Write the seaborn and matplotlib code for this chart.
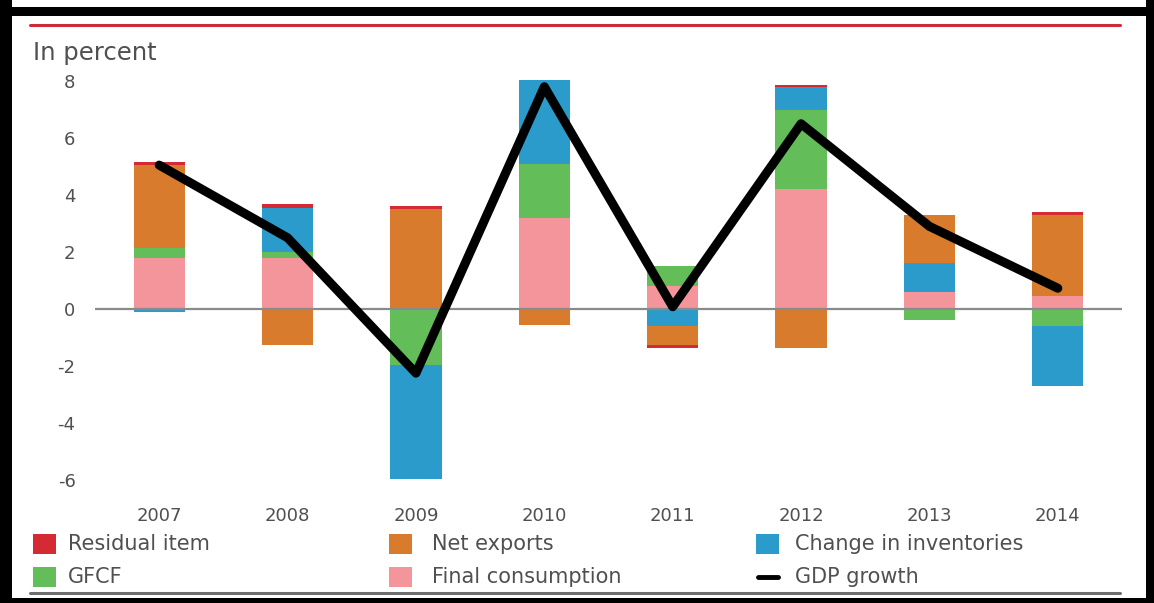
import numpy as np
import pandas as pd
import matplotlib
matplotlib.use("Agg")
import matplotlib.pyplot as plt
from matplotlib.patches import Rectangle
from matplotlib.lines import Line2D
import seaborn as sns

years = ["2007", "2008", "2009", "2010", "2011", "2012", "2013", "2014"]
final_consumption = [1.8, 1.8, 0.0, 3.2, 0.8, 4.2, 0.6, 0.45]
gfcf = [0.35, 0.2, -1.95, 1.9, 0.7, 2.8, -0.4, -0.6]
inventories = [-0.12, 1.55, -4.0, 2.95, -0.6, 0.8, 1.0, -2.1]
net_exports = [2.9, -1.25, 3.5, -0.55, -0.65, -1.38, 1.7, 2.85]
residual = [0.1, 0.15, 0.1, 0.0, -0.12, 0.07, 0.0, 0.1]
gdp_growth = [5.05, 2.5, -2.25, 7.8, 0.08, 6.5, 2.9, 0.73]

RED = "#d42a34"
ORANGE = "#d87b2c"
BLUE = "#2b9bcb"
GREEN = "#63be5a"
PINK = "#f4959c"
TXT = "#505050"

W, H = 1154, 603
fig = plt.figure(figsize=(W / 100, H / 100), dpi=100)
sns.set_style("white")
plt.rcParams["font.family"] = ["DejaVu Sans"]

# axes placed in pixel terms
ax = fig.add_axes([95 / W, 1 - 488.6 / H, (1122 - 95) / W, (488.6 - 75.3) / H])

# stacking: positives and negatives separately, drawn as cumulative overlays
pos_order = [("Final consumption", final_consumption, PINK),
             ("GFCF", gfcf, GREEN),
             ("Change in inventories", inventories, BLUE),
             ("Net exports", net_exports, ORANGE),
             ("Residual item", residual, RED)]
neg_order = [("GFCF", gfcf, GREEN),
             ("Change in inventories", inventories, BLUE),
             ("Net exports", net_exports, ORANGE),
             ("Residual item", residual, RED)]

def cumulative(order, positive):
    out = []
    total = np.zeros(len(years))
    for name, vals, col in order:
        v = np.array(vals)
        v = np.where(v > 0, v, 0) if positive else np.where(v < 0, v, 0)
        total = total + v
        out.append((name, total.copy(), col))
    return out

for stack in (cumulative(pos_order, True), cumulative(neg_order, False)):
    for name, tops, col in reversed(stack):
        df = pd.DataFrame({"year": years, "value": tops})
        sns.barplot(data=df, x="year", y="value", color=col, width=0.4,
                    linewidth=0, saturation=1, ax=ax)

ax.axhline(0, color="#8a8a8a", lw=1.6, zorder=3)

sns.lineplot(x=np.arange(len(years)), y=gdp_growth, color="black", lw=6.5,
             solid_capstyle="round", solid_joinstyle="round", ax=ax, zorder=5)

ax.set_xlim(-0.5, 7.5)
ax.set_ylim(-6.3, 8.2)
ax.set_yticks([-6, -4, -2, 0, 2, 4, 6, 8])
ax.set_yticklabels(["-6", "-4", "-2", "0", "2", "4", "6", "8"])
ax.set_xticks(range(len(years)))
ax.set_xticklabels(years)
ax.tick_params(axis="both", length=0, labelsize=13, colors=TXT)
ax.tick_params(axis="x", pad=13)
ax.tick_params(axis="y", pad=14)
ax.set_xlabel("")
ax.set_ylabel("")
for s in ax.spines.values():
    s.set_visible(False)

fig.text(33 / W, 1 - 53 / H, "In percent", fontsize=17.5, color=TXT, va="center", ha="left")

# top red rule and bottom gray rule
fig.add_artist(Line2D([30 / W, 1120 / W], [1 - 25 / H, 1 - 25 / H], color="#d02a36", lw=2.2))
fig.add_artist(Line2D([30 / W, 1120 / W], [1 - 593 / H, 1 - 593 / H], color="#6e6e6e", lw=2.2))

# legend
entries = [(33, 68, 544, RED, "Residual item"), (33, 68, 577, GREEN, "GFCF"),
           (389, 432, 544, ORANGE, "Net exports"), (389, 432, 577, PINK, "Final consumption"),
           (756, 795, 544, BLUE, "Change in inventories")]
for x, tx, y, col, label in entries:
    fig.add_artist(Rectangle((x / W, 1 - (y + 10) / H), 23 / W, 20 / H,
                             transform=fig.transFigure, color=col, lw=0))
    fig.text(tx / W, 1 - y / H, label, fontsize=15, color=TXT, va="center", ha="left")
fig.add_artist(Line2D([758 / W, 778 / W], [1 - 577 / H, 1 - 577 / H], color="black", lw=3.5))
fig.text(795 / W, 1 - 577 / H, "GDP growth", fontsize=15, color=TXT, va="center", ha="left")

# black screenshot frame
frame = [(0, 7, W, 9), (0, 0, 12, H), (1146, 0, 8, H), (0, 598, W, 5)]
for x, y, w, h in frame:
    fig.add_artist(Rectangle((x / W, 1 - (y + h) / H), w / W, h / H,
                             transform=fig.transFigure, color="black", lw=0))

fig.savefig("out.png", dpi=100, facecolor="white")
